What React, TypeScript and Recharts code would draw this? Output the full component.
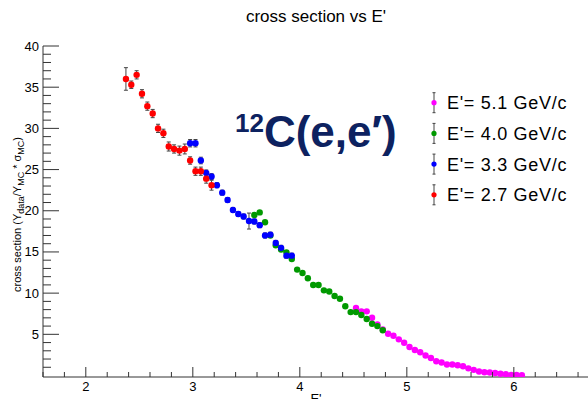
import { ScatterChart, Scatter, XAxis, YAxis, ErrorBar } from 'recharts'

const FONT = '"Liberation Sans", Arial, Helvetica, sans-serif'

// E' = 2.7 GeV/c
const redX = [2.375, 2.425, 2.475, 2.525, 2.575, 2.625, 2.675, 2.725, 2.775, 2.825, 2.875, 2.925, 2.975, 3.025, 3.075, 3.125, 3.175]
const redY = [36.0, 35.3, 36.5, 34.2, 32.7, 31.8, 30.0, 29.4, 27.8, 27.5, 27.3, 27.5, 26.1, 24.8, 24.8, 23.9, 23.1]
const redErr = [1.37, 0.45, 0.5, 0.5, 0.5, 0.5, 0.5, 0.5, 0.55, 0.5, 0.55, 0.6, 0.45, 0.5, 0.5, 0.55, 0.6]

// E' = 3.3 GeV/c
const blueX = [2.975, 3.025, 3.075, 3.125, 3.175, 3.225, 3.275, 3.325, 3.375, 3.425, 3.475, 3.525, 3.575, 3.625, 3.675, 3.725, 3.775, 3.825, 3.875, 3.925]
const blueY = [28.2, 28.2, 26.1, 24.6, 24.15, 23.1, 22.2, 21.3, 20.1, 19.6, 19.3, 18.75, 18.7, 18.25, 17.0, 17.1, 16.1, 15.5, 14.55, 14.55]
const blueErr = [0.45, 0.45, 0.4, 0.35, 0.35, 0.3, 0.3, 0.3, 0.3, 0.3, 0.3, 0.97, 0.3, 0.3, 0.3, 0.3, 0.3, 0.3, 0.3, 0.3]

// E' = 4.0 GeV/c
const greenX = [3.575, 3.625, 3.675, 3.725, 3.775, 3.825, 3.875, 3.925, 3.975, 4.025, 4.075, 4.125, 4.175, 4.225, 4.275, 4.325, 4.375, 4.425, 4.475, 4.525, 4.575, 4.625, 4.675, 4.725, 4.775]
const greenY = [19.5, 19.8, 18.6, 17.0, 15.8, 15.3, 14.95, 14.14, 12.86, 12.44, 11.8, 10.98, 10.98, 10.34, 10.19, 9.65, 9.32, 8.4, 7.7, 7.7, 7.34, 6.86, 6.29, 6.0, 5.49]

// E' = 5.1 GeV/c
const magentaX = [4.525, 4.575, 4.625, 4.675, 4.725, 4.775, 4.825, 4.875, 4.925, 4.975, 5.025, 5.075, 5.125, 5.175, 5.225, 5.275, 5.325, 5.375, 5.425, 5.475, 5.525, 5.575, 5.625, 5.675, 5.725, 5.775, 5.825, 5.875, 5.925, 5.975, 6.025, 6.075]
const magentaY = [8.19, 7.79, 7.79, 7.01, 6.21, 5.6, 5.07, 4.83, 4.39, 3.98, 3.46, 3.09, 2.82, 2.43, 2.12, 1.74, 1.58, 1.33, 1.33, 1.25, 1.12, 0.87, 0.69, 0.49, 0.4, 0.36, 0.3, 0.22, 0.15, 0.08, 0.06, 0.03]

const xMajorTicks = [2, 3, 4, 5, 6]
const xMinorTicks = [1.6, 1.8, 2.2, 2.4, 2.6, 2.8, 3.2, 3.4, 3.6, 3.8, 4.2, 4.4, 4.6, 4.8, 5.2, 5.4, 5.6, 5.8, 6.2, 6.4, 6.6]
const yMajorTicks = [5, 10, 15, 20, 25, 30, 35, 40]
const yMinorTicks = [1, 2, 3, 4, 6, 7, 8, 9, 11, 12, 13, 14, 16, 17, 18, 19, 21, 22, 23, 24, 26, 27, 28, 29, 31, 32, 33, 34, 36, 37, 38, 39]

const legendLabels = ["E'= 5.1 GeV/c", "E'= 4.0 GeV/c", "E'= 3.3 GeV/c", "E'= 2.7 GeV/c"]
const legendColors = ['#ff00ff', '#009900', '#0000ff', '#ff0000']

const toPoints = (xs: number[], ys: number[], errs?: number[]) =>
  xs.map((x, i) => ({ x, y: ys[i], err: errs ? errs[i] : 0 }))

const redData = toPoints(redX, redY, redErr)
const blueData = toPoints(blueX, blueY, blueErr)
const greenData = toPoints(greenX, greenY)
const magentaData = toPoints(magentaX, magentaY)

const AXIS = '#333'

const XTick = (props: any) => {
  const { x, y, payload } = props
  const major = xMajorTicks.includes(payload.value)
  return (
    <g>
      <line x1={x} x2={x} y1={y} y2={y - (major ? 10 : 5)} stroke={AXIS} strokeWidth={1} />
      {major && (
        <text x={x} y={y + 14} textAnchor="middle" fontSize={13} fontFamily={FONT} fill="#000">
          {payload.value}
        </text>
      )}
    </g>
  )
}

const YTick = (props: any) => {
  const { x, y, payload } = props
  const major = yMajorTicks.includes(payload.value)
  return (
    <g>
      <line x1={x} x2={x + (major ? 16 : 8)} y1={y} y2={y} stroke={AXIS} strokeWidth={1} />
      {major && (
        <text x={x - 4} y={y + 4.5} textAnchor="end" fontSize={13} fontFamily={FONT} fill="#000">
          {payload.value}
        </text>
      )}
    </g>
  )
}

const dot = (color: string) => (props: any) => (
  <circle cx={props.cx} cy={props.cy} r={3.2} fill={color} />
)

export default function App() {
  return (
    <div style={{ position: 'absolute', left: 0, top: 0, width: 588, height: 399, background: '#fff' }}>
      <ScatterChart width={588} height={399} margin={{ top: 46, right: 0, bottom: 0, left: 0 }}>
        <XAxis
          type="number"
          dataKey="x"
          domain={[1.6, 6.693]}
          allowDataOverflow
          ticks={[...xMinorTicks, ...xMajorTicks]}
          interval={0}
          tickSize={0}
          tickMargin={0}
          height={22}
          axisLine={{ stroke: AXIS }}
          tick={<XTick />}
        />
        <YAxis
          type="number"
          dataKey="y"
          domain={[-0.18, 40]}
          allowDataOverflow
          ticks={[...yMinorTicks, ...yMajorTicks]}
          interval={0}
          tickSize={0}
          tickMargin={0}
          width={43}
          axisLine={{ stroke: AXIS }}
          tick={<YTick />}
        />
        <Scatter data={magentaData} dataKey="y" fill="#ff00ff" shape={dot('#ff00ff')} isAnimationActive={false} />
        <Scatter data={greenData} dataKey="y" fill="#009900" shape={dot('#009900')} isAnimationActive={false} />
        <Scatter data={blueData} dataKey="y" fill="#0000ff" shape={dot('#0000ff')} isAnimationActive={false}>
          <ErrorBar dataKey="err" direction="y" width={2} stroke="#444" strokeWidth={1} />
        </Scatter>
        <Scatter data={redData} dataKey="y" fill="#ff0000" shape={dot('#ff0000')} isAnimationActive={false}>
          <ErrorBar dataKey="err" direction="y" width={2} stroke="#444" strokeWidth={1} />
        </Scatter>
      </ScatterChart>
      <svg width={588} height={399} style={{ position: 'absolute', left: 0, top: 0, pointerEvents: 'none' }}>
        <text x={316} y={22} textAnchor="middle" fontSize={17} fontFamily={FONT} fill="#000">
          cross section vs E'
        </text>
        <text x={316} y={403} textAnchor="middle" fontSize={13} fontFamily={FONT} fill="#000">
          E'
        </text>
        <text x={21} y={292} transform="rotate(-90 21 292)" fontSize={11} fontFamily={FONT} fill="#000">
          cross section (Y<tspan fontSize={9} dy={3}>data</tspan>
          <tspan dy={-3}>/Y</tspan>
          <tspan fontSize={9} dy={3}>MC</tspan>
          <tspan dy={-3}> * σ</tspan>
          <tspan fontSize={9} dy={3}>MC</tspan>
          <tspan dy={-3}>)</tspan>
        </text>
        <text x={235} y={147} fontWeight="bold" fill="#0d2260" fontFamily={FONT}>
          <tspan fontSize={26} dy={-15}>12</tspan>
          <tspan fontSize={44} dy={15}>C(e,e′)</tspan>
        </text>
        {legendLabels.map((label, i) => {
          const cy = 102.7 + i * 30.7
          return (
            <g key={label}>
              <line x1={434} x2={434} y1={cy - 10} y2={cy + 10} stroke="#444" />
              <line x1={432.5} x2={435.5} y1={cy - 10} y2={cy - 10} stroke="#444" />
              <line x1={432.5} x2={435.5} y1={cy + 10} y2={cy + 10} stroke="#444" />
              <circle cx={434} cy={cy} r={2.6} fill={legendColors[i]} />
              <text x={447} y={cy + 6.5} fontSize={18} letterSpacing={0.7} fontFamily={FONT} fill="#000">
                {label}
              </text>
            </g>
          )
        })}
      </svg>
    </div>
  )
}
